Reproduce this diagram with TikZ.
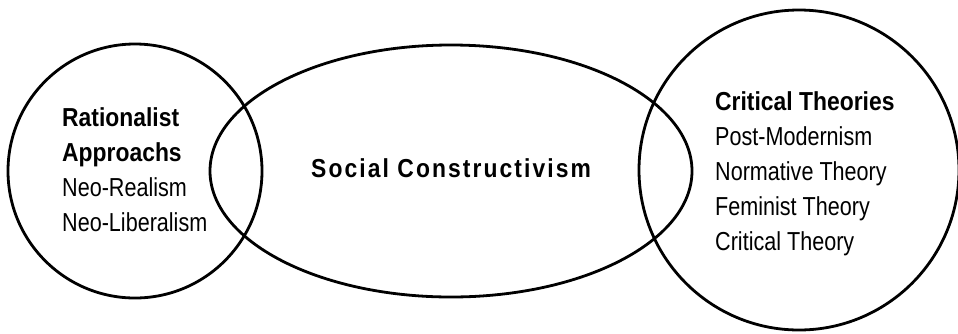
\documentclass[tikz,border=0pt]{standalone}
\usepackage{fontspec}
\newfontfamily\vennfont[FakeStretch=0.83,BoldFeatures={FakeStretch=0.88}]{Liberation Sans}
\newfontfamily\vennspaced[FakeStretch=0.88,LetterSpace=8]{Liberation Sans}
\tikzset{
  venn/.style={
    line width=2.8pt,
    draw=black
  },
  venn-text/.style={
    inner sep=0pt,
    align=left,
    font=\vennfont\fontsize{26}{35}\selectfont
  },
  venn-title/.style={
    inner sep=0pt,
    font=\vennspaced\bfseries\fontsize{26}{30}\selectfont
  }
}

\begin{document}
\begin{tikzpicture}[x=1pt,y=-1pt]
  \useasboundingbox (0,0) rectangle (958,333);
  % The three sets
  \draw[venn] (135,171) circle (127);
  \draw[venn] (451,171) ellipse (241 and 126);
  \draw[venn] (799,170) circle (160);
  % Left set
  \node[venn-text, anchor=north west] (rational) at (62,107)
    {{\bfseries Rationalist}\\{\bfseries Approachs}\\Neo-Realism\\Neo-Liberalism};
  % Middle set
  \node[venn-title, anchor=base west] (social) at (311,177) {Social Constructivism};
  % Right set
  \node[venn-text, anchor=north west] (critical) at (715,91)
    {{\bfseries Critical Theories}\\Post-Modernism\\Normative Theory\\Feminist Theory\\Critical Theory};
\end{tikzpicture}
\end{document}
